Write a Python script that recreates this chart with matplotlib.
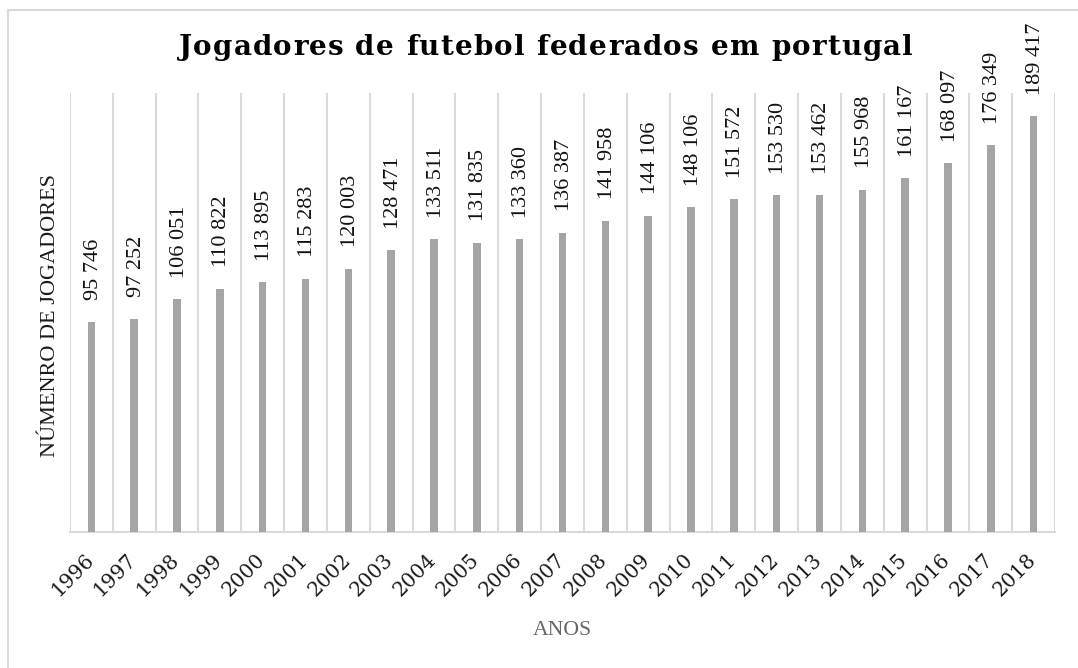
import matplotlib
matplotlib.use("Agg")
import matplotlib.pyplot as plt
from matplotlib.font_manager import FontProperties
from matplotlib.lines import Line2D
import matplotlib.transforms as mtransforms
import numpy as np

years = ["1996", "1997", "1998", "1999", "2000", "2001", "2002", "2003", "2004",
         "2005", "2006", "2007", "2008", "2009", "2010", "2011", "2012", "2013",
         "2014", "2015", "2016", "2017", "2018"]
players = [95746, 97252, 106051, 110822, 113895, 115283, 120003, 128471, 133511,
           131835, 133360, 136387, 141958, 144106, 148106, 151572, 153530, 153462,
           155968, 161167, 168097, 176349, 189417]
title = "Jogadores de futebol federados em portugal"
xlabel = "ANOS"
ylabel = "NÚMENRO DE JOGADORES"

W, H, DPI = 1078, 668, 100
fig = plt.figure(figsize=(W / DPI, H / DPI), dpi=DPI)
fig.patch.set_facecolor("white")

# axes placement (pixels)
L, R, B, T = 70, 1055, 531.7, 93.3
ax = fig.add_axes([L / W, 1 - B / H, (R - L) / W, (B - T) / H])

x = np.arange(len(years))
bar_color = "#a5a5a5"
grid_color = "#d9d9d9"
ax.bar(x, players, width=0.175, color=bar_color, zorder=3)

ax.set_xlim(-0.5, len(years) - 0.5)
ax.set_ylim(0, 200000)

# vertical gridlines at category boundaries
ax.set_xticks(np.arange(-0.5, len(years), 1.0), minor=True)
ax.xaxis.grid(True, which="minor", color=grid_color, linewidth=1.5, zorder=0)
ax.tick_params(axis="x", which="both", length=0)
ax.set_xticks(x)
tick_fp = FontProperties(family="DejaVu Serif", size=14.5)
labels = ax.set_xticklabels(years, rotation=45, ha="right", va="top",
                            fontproperties=tick_fp, color="#1a1a1a")
ax.tick_params(axis="x", which="major", pad=12)
shift = mtransforms.ScaledTranslation(6 / DPI, -2 / DPI, fig.dpi_scale_trans)
for lab in labels:
    lab.set_transform(lab.get_transform() + shift)
ax.set_yticks([])

for s in ["left", "right", "top"]:
    ax.spines[s].set_visible(False)
ax.spines["bottom"].set_color(grid_color)
ax.spines["bottom"].set_linewidth(1.5)

# data labels
for xi, v in zip(x, players):
    ax.annotate(f"{v:,}".replace(",", " "), (xi, v), xytext=(1.5, 15.5),
                textcoords="offset points", rotation=90, ha="center", va="bottom",
                fontfamily="Liberation Serif", fontsize=16, color="#111111")

# axis titles
fig.text(50.5 / W, 1 - 315 / H, ylabel, rotation=90, ha="center", va="center",
         fontfamily="Liberation Serif", fontsize=16, color="#1a1a1a")
fig.text(562.5 / W, 1 - 635 / H, xlabel, ha="center", va="baseline",
         fontfamily="Liberation Serif", fontsize=15.6, color="#666666")

# letter-spaced title
fp = FontProperties(family="DejaVu Serif", weight="bold", size=20)
fig.canvas.draw()
renderer = fig.canvas.get_renderer()
widths = []
for ch in title:
    if ch == " ":
        w, _, _ = renderer.get_text_width_height_descent("a a", fp, ismath=False)
        w2, _, _ = renderer.get_text_width_height_descent("aa", fp, ismath=False)
        widths.append(w - w2)
    else:
        w, _, _ = renderer.get_text_width_height_descent(ch, fp, ismath=False)
        widths.append(w)
x0, x1 = 179, 913
spacing = (x1 - x0 - sum(widths)) / (len(title) - 1)
cx = x0
for ch, w in zip(title, widths):
    if ch != " ":
        fig.text(cx / W, 1 - 55 / H, ch, ha="left", va="baseline",
                 fontproperties=fp, color="#000000")
    cx += w + spacing

# outer border (left and top visible)
fig.add_artist(Line2D([7.5 / W, 7.5 / W], [0, 1 - 10 / H], color=grid_color,
                      linewidth=1.5, transform=fig.transFigure))
fig.add_artist(Line2D([7.5 / W, 1], [1 - 10 / H, 1 - 10 / H], color=grid_color,
                      linewidth=1.5, transform=fig.transFigure))

fig.savefig("out.png", dpi=DPI, facecolor="white")
